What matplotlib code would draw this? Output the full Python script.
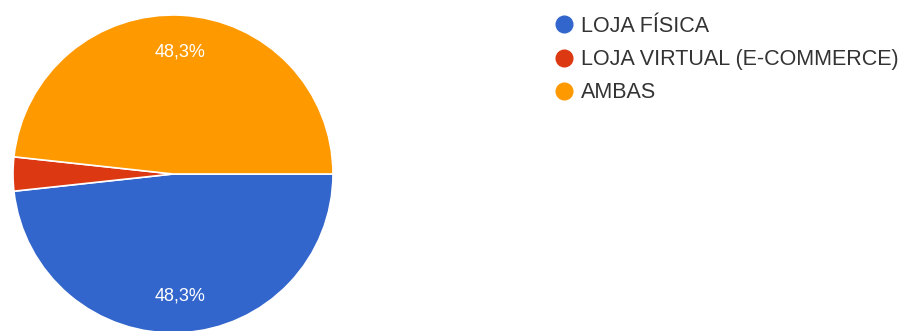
import matplotlib.pyplot as plt
from matplotlib.lines import Line2D

plt.rcParams['font.family'] = ['Liberation Sans', 'DejaVu Sans']

# Respostas por canal de compra
categorias = ['LOJA FÍSICA', 'LOJA VIRTUAL (E-COMMERCE)', 'AMBAS']
respostas = [28, 2, 28]
cores = ['#3366cc', '#dc3912', '#ff9900']

fig = plt.figure(figsize=(9.09, 3.31), dpi=100)
W, H = 909, 331

# Eixo da pizza posicionado em pixels (a base passa um pouco da borda)
ax = fig.add_axes([13 / W, -2 / H, 320 / W, 318 / H])


def rotulo(p):
    # Fatias pequenas ficam sem rótulo
    if p < 5:
        return ''
    return f'{p:.1f}%'.replace('.', ',')


fatias, textos, pct = ax.pie(
    respostas, colors=cores, startangle=0, counterclock=False,
    autopct=rotulo, pctdistance=0.77, radius=1,
    wedgeprops=dict(edgecolor='white', linewidth=1.2),
    textprops=dict(color='white', fontsize=13))
ax.set_aspect('auto')
ax.set_xlim(-1, 1)
ax.set_ylim(-1, 1)

# Legenda com marcadores circulares
handles = [Line2D([0], [0], marker='o', linestyle='', markersize=12,
                  markerfacecolor=c, markeredgecolor=c) for c in cores]
fig.legend(handles, categorias, loc='upper left',
           bbox_to_anchor=(542 / W, 1 - 3 / H), frameon=False,
           fontsize=15.5, labelspacing=0.57, handletextpad=0.4,
           handlelength=0.8, borderaxespad=0.2, labelcolor='#333333')

fig.savefig('out.png', dpi=100)
